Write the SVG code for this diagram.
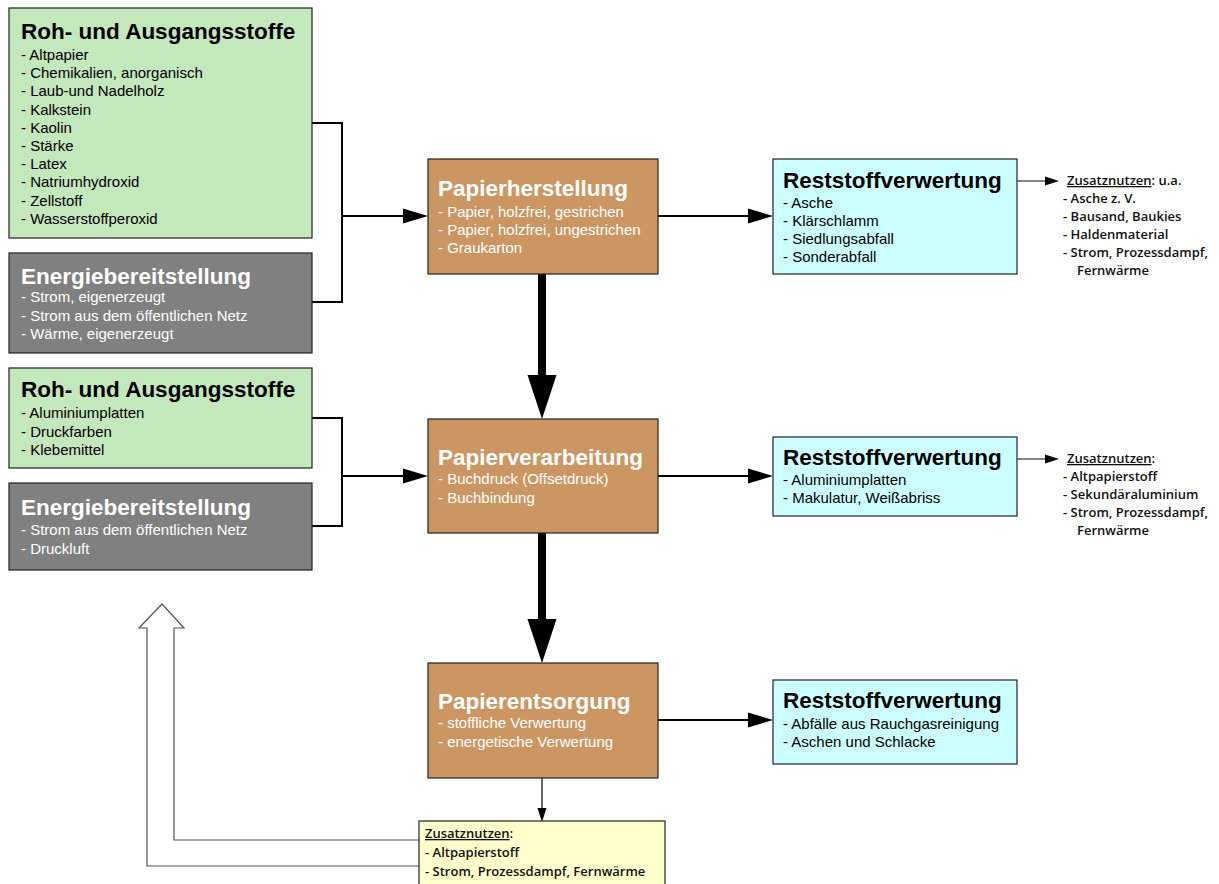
<svg xmlns="http://www.w3.org/2000/svg" width="1219" height="884" viewBox="0 0 1219 884">
<style>
.box{stroke:#222;stroke-width:1.2}
.green{fill:#c3e8bc}
.gray{fill:#808080}
.brown{fill:#cc9663}
.cyan{fill:#ccffff}
.yellow{fill:#ffffcc}
.t{font-family:"Liberation Sans",Arial,sans-serif;font-weight:bold;font-size:22.5px}
.i{font-family:"Liberation Sans",Arial,sans-serif;font-size:15px}
.k{fill:#000}
.w{fill:#fff}
.z{font-family:"Open Sans","Noto Sans",sans-serif;font-weight:600;font-size:13px;fill:#111}
.u{text-decoration:underline}
.c{fill:none;stroke:#000;stroke-width:2}
.thick{fill:none;stroke:#000;stroke-width:8}
.thin{fill:none;stroke:#333;stroke-width:1.2}
.hollow{fill:#fff;stroke:#555;stroke-width:1.2}
</style>
<defs>
<marker id="arr" markerUnits="userSpaceOnUse" markerWidth="25" markerHeight="15" viewBox="0 0 25 15" refX="0" refY="7.5" orient="auto" overflow="visible">
<path d="M0,0 L25,7.5 L0,15 z" fill="#000"/>
</marker>
<marker id="big" markerUnits="userSpaceOnUse" markerWidth="44" markerHeight="29" viewBox="0 0 44 29" refX="0" refY="14.5" orient="auto" overflow="visible">
<path d="M0,0 L44,14.5 L0,29 z" fill="#000"/>
</marker>
<marker id="sm" markerUnits="userSpaceOnUse" markerWidth="14" markerHeight="9" viewBox="0 0 14 9" refX="0" refY="4.5" orient="auto" overflow="visible">
<path d="M0,0 L14,4.5 L0,9 z" fill="#000"/>
</marker>
</defs>

<g id="connectors">
<polyline class="c" points="312,123 342,123 342,302 312,302"/>
<line class="c" x1="342" y1="216" x2="403" y2="216" marker-end="url(#arr)"/>
<polyline class="c" points="312,418 342,418 342,526 312,526"/>
<line class="c" x1="342" y1="476" x2="403" y2="476" marker-end="url(#arr)"/>
<line class="c" x1="658" y1="216" x2="748" y2="216" marker-end="url(#arr)"/>
<line class="c" x1="658" y1="476" x2="748" y2="476" marker-end="url(#arr)"/>
<line class="c" x1="658" y1="720" x2="748" y2="720" marker-end="url(#arr)"/>
<line class="thick" x1="542" y1="274" x2="542" y2="375" marker-end="url(#big)"/>
<line class="thick" x1="542" y1="533" x2="542" y2="619" marker-end="url(#big)"/>
<line class="thin" x1="542" y1="778" x2="542" y2="808" marker-end="url(#sm)" style="stroke:#000"/>
<line class="thin" x1="1017" y1="181" x2="1045" y2="181" marker-end="url(#sm)"/>
<line class="thin" x1="1017" y1="459" x2="1045" y2="459" marker-end="url(#sm)"/>
<path class="hollow" d="M419,866 H147 V628 H139 L162,604 L184,628 H174 V840 H419"/>
</g>

<g id="roh1">
<rect class="box green" x="9" y="8" width="303" height="230"/>
<text class="t k" x="21" y="39">Roh- und Ausgangsstoffe</text>
<text class="i k" x="21" y="60">- Altpapier</text>
<text class="i k" x="21" y="78.2">- Chemikalien, anorganisch</text>
<text class="i k" x="21" y="96.4">- Laub-und Nadelholz</text>
<text class="i k" x="21" y="114.6">- Kalkstein</text>
<text class="i k" x="21" y="132.8">- Kaolin</text>
<text class="i k" x="21" y="151">- Stärke</text>
<text class="i k" x="21" y="169.2">- Latex</text>
<text class="i k" x="21" y="187.4">- Natriumhydroxid</text>
<text class="i k" x="21" y="205.6">- Zellstoff</text>
<text class="i k" x="21" y="223.8">- Wasserstoffperoxid</text>
</g>

<g id="energie1">
<rect class="box gray" x="9" y="253" width="303" height="100"/>
<text class="t w" x="21" y="284">Energiebereitstellung</text>
<text class="i w" x="21" y="302">- Strom, eigenerzeugt</text>
<text class="i w" x="21" y="320.5">- Strom aus dem öffentlichen Netz</text>
<text class="i w" x="21" y="339">- Wärme, eigenerzeugt</text>
</g>

<g id="roh2">
<rect class="box green" x="9" y="368" width="303" height="100"/>
<text class="t k" x="21" y="397">Roh- und Ausgangsstoffe</text>
<text class="i k" x="21" y="418">- Aluminiumplatten</text>
<text class="i k" x="21" y="437">- Druckfarben</text>
<text class="i k" x="21" y="455">- Klebemittel</text>
</g>

<g id="energie2">
<rect class="box gray" x="9" y="483" width="303" height="87"/>
<text class="t w" x="21" y="515">Energiebereitstellung</text>
<text class="i w" x="21" y="535">- Strom aus dem öffentlichen Netz</text>
<text class="i w" x="21" y="554">- Druckluft</text>
</g>

<g id="papierherstellung">
<rect class="box brown" x="428" y="159" width="230" height="115"/>
<text class="t w" x="438" y="196">Papierherstellung</text>
<text class="i w" x="438" y="217">- Papier, holzfrei, gestrichen</text>
<text class="i w" x="438" y="235">- Papier, holzfrei, ungestrichen</text>
<text class="i w" x="438" y="253">- Graukarton</text>
</g>

<g id="papierverarbeitung">
<rect class="box brown" x="428" y="419" width="230" height="114"/>
<text class="t w" x="438" y="465">Papierverarbeitung</text>
<text class="i w" x="438" y="484">- Buchdruck (Offsetdruck)</text>
<text class="i w" x="438" y="503">- Buchbindung</text>
</g>

<g id="papierentsorgung">
<rect class="box brown" x="428" y="663" width="230" height="115"/>
<text class="t w" x="438" y="709">Papierentsorgung</text>
<text class="i w" x="438" y="728">- stoffliche Verwertung</text>
<text class="i w" x="438" y="747">- energetische Verwertung</text>
</g>

<g id="reststoff1">
<rect class="box cyan" x="773" y="159" width="244" height="115"/>
<text class="t k" x="783" y="188">Reststoffverwertung</text>
<text class="i k" x="783" y="208">- Asche</text>
<text class="i k" x="783" y="226">- Klärschlamm</text>
<text class="i k" x="783" y="244">- Siedlungsabfall</text>
<text class="i k" x="783" y="262">- Sonderabfall</text>
</g>

<g id="reststoff2">
<rect class="box cyan" x="773" y="437" width="244" height="79"/>
<text class="t k" x="783" y="465">Reststoffverwertung</text>
<text class="i k" x="783" y="485">- Aluminiumplatten</text>
<text class="i k" x="783" y="503">- Makulatur, Weißabriss</text>
</g>

<g id="reststoff3">
<rect class="box cyan" x="773" y="680" width="244" height="84"/>
<text class="t k" x="783" y="708">Reststoffverwertung</text>
<text class="i k" x="783" y="729">- Abfälle aus Rauchgasreinigung</text>
<text class="i k" x="783" y="747">- Aschen und Schlacke</text>
</g>

<g id="zusatz1">
<text class="z" x="1067" y="185"><tspan class="u">Zusatznutzen</tspan>: u.a.</text>
<text class="z" x="1063" y="203">- Asche z. V.</text>
<text class="z" x="1063" y="221">- Bausand, Baukies</text>
<text class="z" x="1063" y="239">- Haldenmaterial</text>
<text class="z" x="1063" y="257">- Strom, Prozessdampf,</text>
<text class="z" x="1077" y="275">Fernwärme</text>
</g>

<g id="zusatz2">
<text class="z" x="1067" y="463"><tspan class="u">Zusatznutzen</tspan>:</text>
<text class="z" x="1063" y="481">- Altpapierstoff</text>
<text class="z" x="1063" y="499">- Sekundäraluminium</text>
<text class="z" x="1063" y="517">- Strom, Prozessdampf,</text>
<text class="z" x="1077" y="535">Fernwärme</text>
</g>

<g id="zusatz3">
<rect class="box yellow" x="419" y="821" width="246" height="70"/>
<text class="z" x="425" y="838"><tspan class="u">Zusatznutzen</tspan>:</text>
<text class="z" x="425" y="857">- Altpapierstoff</text>
<text class="z" x="425" y="876">- Strom, Prozessdampf, Fernwärme</text>
</g>
</svg>
